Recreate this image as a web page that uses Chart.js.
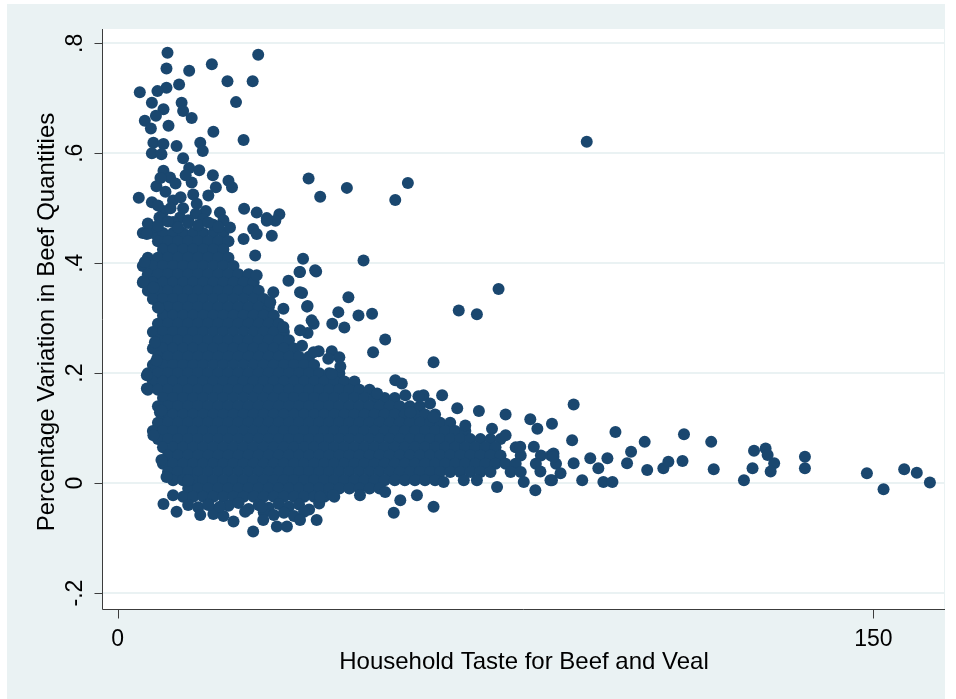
<!DOCTYPE html>
<html>
<head>
<meta charset="utf-8">
<title>Household taste vs beef quantities</title>
<script src="https://cdn.jsdelivr.net/npm/chart.js@4.4.1/dist/chart.umd.min.js"></script>
<style>
  html, body { margin: 0; padding: 0; background: #fff; }
  #wrap { width: 956px; height: 699px; }
</style>
</head>
<body>
<div id="wrap"><canvas id="scatter" width="956" height="699"></canvas></div>
<script>
/* ======================
DATA
====================== */

// axis ticks
const xTickValues = [0, 150];
const xTickLabels = ["0", "150"];
const yTickValues = [-0.2, 0, 0.2, 0.4, 0.6, 0.8];
const yTickLabels = ["-.2", "0", ".2", ".4", ".6", ".8"];

const xTitle = "Household Taste for Beef and Veal";
const yTitle = "Percentage Variation in Beef Quantities";

// dense core of the cloud, read row by row (y level -> taste values)
const coreLevels = [
  0.455, 0.440, 0.425, 0.410, 0.395, 0.380, 0.365, 0.350, 0.335,
  0.320, 0.305, 0.290, 0.275, 0.260, 0.245, 0.230, 0.215, 0.200, 0.185,
  0.170, 0.155, 0.140, 0.125, 0.110, 0.095, 0.080, 0.065, 0.050, 0.035,
  0.020, 0.005, -0.010, -0.025
];
const coreTastes = [
  [5,7,9,11,13,15,17,19,21],
  [8,10,12,14,16,18,20,22],
  [9,11,13,15,17,19,21],
  [6,8,10,12,14,16,18,20,22],
  [5,7,9,11,13,15,17,19,21,23],
  [6,8,10,12,14,16,18,20,22,24,26],
  [5,7,9,11,13,15,17,19,21,23,25,27],
  [6,8,10,12,14,16,18,20,22,24,26,28],
  [7,9,11,13,15,17,19,21,23,25,27,29],
  [8,10,12,14,16,18,20,22,24,26,28,30],
  [9,11,13,15,17,19,21,23,25,27,29,31],
  [8,10,12,14,16,18,20,22,24,26,28,30,32],
  [7,9,11,13,15,17,19,21,23,25,27,29,31,33],
  [8,10,12,14,16,18,20,22,24,26,28,30,32,34],
  [7,9,11,13,15,17,19,21,23,25,27,29,31,33,35],
  [8,10,12,14,16,18,20,22,24,26,28,30,32,34,36,38],
  [7,9,11,13,15,17,19,21,23,25,27,29,31,33,35,37,39],
  [6,8,10,12,14,16,18,20,22,24,26,28,30,32,34,36,38,40,42,44],
  [7,9,11,13,15,17,19,21,23,25,27,29,31,33,35,37,39,41,43,45,47],
  [6,8,10,12,14,16,18,20,22,24,26,28,30,32,34,36,38,40,42,44,46,48,50],
  [9,11,13,15,17,19,21,23,25,27,29,31,33,35,37,39,41,43,45,47,49,51,53,55],
  [8,10,12,14,16,18,20,22,24,26,28,30,32,34,36,38,40,42,44,46,48,50,52,54,56,58,60],
  [9,11,13,15,17,19,21,23,25,27,29,31,33,35,37,39,41,43,45,47,49,51,53,55,57,59,61,63],
  [8,10,12,14,16,18,20,22,24,26,28,30,32,34,36,38,40,42,44,46,48,50,52,54,56,58,60,62,64,66],
  [7,9,11,13,15,17,19,21,23,25,27,29,31,33,35,37,39,41,43,45,47,49,51,53,55,57,59,61,63,65,67,69],
  [8,10,12,14,16,18,20,22,24,26,28,30,32,34,36,38,40,42,44,46,48,50,52,54,56,58,60,62,64,66,68,70,72,74,76],
  [9,11,13,15,17,19,21,23,25,27,29,31,33,35,37,39,41,43,45,47,49,51,53,55,57,59,61,63,65,67,69,71,73,75,79],
  [10,12,14,16,18,20,22,24,26,28,30,32,34,36,38,40,42,44,46,48,50,52,54,56,58,60,62,64,66,68,70,72,74,76,80,84,86],
  [9,11,13,15,17,19,21,23,25,27,29,31,33,35,37,39,41,43,45,47,49,51,53,55,57,59,61,63,65,67,69,71,73,75,77,79,83,87],
  [10,12,14,16,18,20,22,24,26,28,30,32,34,36,38,40,42,44,46,48,50,52,54,56,58,60,62,64,66,68,70,72,74,78,80],
  [11,13,15,17,19,21,23,25,27,29,31,33,35,37,39,41,43,45,47,49,51,53,55,57,59,61,63],
  [14,16,18,20,22,24,26,28,30,32,34,36,38,40,42,44,46,48,50,52],
  [13,15,17,19,21,23,25,27,29,31,33,35,37,39,41,43]
];

// upper left spread (taste, variation)
const upperPoints = [
  [9.9,0.783],[9.7,0.754],[14.2,0.750],[18.7,0.762],[27.9,0.779],[21.8,0.731],
  [26.8,0.731],[23.5,0.693],[12.2,0.725],[9.7,0.719],[7.9,0.713],[4.4,0.711],
  [6.8,0.692],[9.1,0.680],[12.7,0.692],[13.0,0.677],[14.7,0.664],[5.4,0.659],
  [6.6,0.645],[10.1,0.650],[7.6,0.668],[19.0,0.639],[25.0,0.624],[16.4,0.619],
  [16.9,0.604],[7.1,0.619],[9.1,0.617],[6.8,0.600],[8.7,0.598],[11.7,0.613],
  [13.0,0.591],[14.2,0.573],[16.2,0.569],[9.1,0.568],[7.7,0.540],[10.4,0.556],
  [14.7,0.547],[18.9,0.560],[22.0,0.550],[22.7,0.538],[19.5,0.538],[18.0,0.523],
  [4.2,0.519],[6.8,0.511],[25.1,0.499],[27.6,0.492],[29.6,0.482],[32.1,0.489],
  [31.3,0.477],[17.5,0.495],[20.3,0.492],[9.1,0.495],[11.0,0.514],[15.7,0.508],
  [8.3,0.483],[12.4,0.483],[26.9,0.462],[22.3,0.465],[6.8,0.465],
  [8.5,0.555],[11.5,0.545],[13.5,0.560],[9.5,0.530],[12.5,0.520],[15.0,0.525],
  [8.0,0.505],[10.5,0.500],[13.0,0.500],[15.5,0.490],[9.0,0.480],[11.0,0.475],
  [14.0,0.478],[17.0,0.480],[19.0,0.470],[21.0,0.478],
  [6.0,0.472],[8.0,0.468],[10.0,0.476],[12.0,0.465],[14.0,0.473],[16.0,0.469],
  [18.0,0.474],[20.0,0.466]
];

// middle spread and left fringe
const middlePoints = [
  [37.9,0.554],[40.2,0.521],[45.5,0.537],[55.1,0.515],[57.6,0.546],[48.8,0.405],
  [36.8,0.408],[36.2,0.384],[39.4,0.385],[75.6,0.353],[67.7,0.314],[71.3,0.307],
  [36.6,0.346],[45.8,0.338],[37.7,0.322],[43.8,0.311],[47.8,0.305],[50.5,0.308],
  [38.9,0.290],[42.6,0.290],[45.0,0.283],[37.7,0.273],[53.1,0.261],[50.7,0.238],
  [39.9,0.240],[42.5,0.240],[44.0,0.229],[44.2,0.212],[41.8,0.226],[36.6,0.250],
  [62.7,0.220],[42.5,0.199],[55.1,0.187],[56.4,0.181],[60.7,0.160],[64.4,0.160],
  [51.5,0.163],[57.1,0.160],
  [27.6,0.453],[25.0,0.444],[30.6,0.450],[29.6,0.477],[27.3,0.414],[27.6,0.378],
  [33.9,0.368],[30.9,0.347],[36.2,0.347],[32.9,0.317],[37.6,0.321],[30.3,0.329],
  [38.5,0.296],[36.2,0.278],[32.9,0.284],[38.9,0.238],[39.2,0.387],[36.1,0.384],
  [5.8,0.453],[5.4,0.402],[5.1,0.367],[7.1,0.356],[8.1,0.319],[7.4,0.256],
  [7.7,0.223],[5.8,0.196],[5.8,0.172],[8.4,0.129],[8.7,0.132],[7.1,0.087],
  [8.7,0.042],[9.7,0.011],[14.0,0.005],
  [67.4,0.136],[71.7,0.131],[77.0,0.125],[81.9,0.116],[83.3,0.099],[69.0,0.105],
  [74.3,0.099],[77.0,0.087],[62.7,0.120],[58.1,0.129],[62.0,0.145],[59.7,0.158]
];

// lower edge of the cloud
const lowerPoints = [
  [14,-0.040],[16,-0.044],[18,-0.038],[20,-0.046],[22,-0.041],[24,-0.036],
  [26,-0.047],[28,-0.040],[30,-0.045],[32,-0.038],[34,-0.043],[36,-0.039],
  [38,-0.048],[40,-0.037],
  [19,-0.056],[21,-0.060],[29,-0.053],[31,-0.058],[33,-0.054],[35,-0.060],[37,-0.052],
  [16.4,-0.058],[9.1,-0.038],[11.7,-0.052],[11.0,-0.022],[23.0,-0.070],[26.9,-0.088],
  [28.9,-0.067],[31.6,-0.079],[33.6,-0.079],[36.2,-0.067],[39.5,-0.067],[25.3,-0.052],
  [20.3,-0.043],[18.0,-0.040],[28.6,-0.043],[40.2,-0.025],[42.8,-0.022],[48.1,-0.022],
  [53.1,-0.016],[59.4,-0.022],[56.1,-0.031],[54.8,-0.054],[62.7,-0.043],[64.7,0.002],
  [68.7,0.005],[71.3,0.005],[75.3,-0.007],[80.6,0.002],[82.9,-0.013],[86.2,0.005],
  [83.9,0.021],[86.5,0.054],[79.9,0.066],[82.6,0.066]
];

// long right tail
const tailPoints = [
  [93.1,0.621],[90.5,0.143],[86.2,0.108],[98.8,0.093],[90.2,0.078],[104.6,0.075],
  [112.4,0.089],[117.8,0.075],[101.9,0.057],[112.1,0.040],[118.3,0.025],[126.3,0.059],
  [128.6,0.063],[129.0,0.051],[130.3,0.036],[126.0,0.027],[124.3,0.005],[129.6,0.021],
  [136.4,0.048],[136.4,0.027],[148.7,0.018],[152.0,-0.011],[156.1,0.025],[158.6,0.019],
  [161.2,0.001],[86.5,0.048],[90.5,0.036],[93.8,0.045],[97.2,0.045],[92.2,0.005],
  [96.4,0.002],[98.2,0.002],[101.1,0.036],[105.1,0.024],[108.3,0.027],[109.3,0.039],
  [85.9,0.005],[87.9,0.018],[95.4,0.027]
];

/* ======================
LAYOUT
====================== */

const X_MIN = -3.1;
const X_MAX = 164;
const Y_MIN = -0.229;
const Y_MAX = 0.826;
const MARKER = "#1A476F";
const OUTER_BG = "#EAF2F3";
const FONT = '"Liberation Sans", Arial, sans-serif';

/* ======================
BUILD POINTS
====================== */

const cloud = [];
coreLevels.forEach((level, i) => {
  coreTastes[i].forEach((taste) => cloud.push({ x: taste, y: level }));
});
[upperPoints, middlePoints, lowerPoints, tailPoints].forEach((list) => {
  list.forEach((p) => cloud.push({ x: p[0], y: p[1] }));
});

/* ======================
PLUGINS
====================== */

const stataFrame = {
  id: "stataFrame",
  beforeDraw(chart) {
    const { ctx, chartArea } = chart;
    ctx.save();
    ctx.fillStyle = "#ffffff";
    ctx.fillRect(0, 0, chart.width, chart.height);
    ctx.fillStyle = OUTER_BG;
    ctx.fillRect(7, 4, 938, 695);
    ctx.fillStyle = "#ffffff";
    ctx.fillRect(chartArea.left, chartArea.top,
      chartArea.right - chartArea.left, chartArea.bottom - chartArea.top);
    ctx.restore();
  },
  afterDraw(chart) {
    const { ctx, chartArea } = chart;
    const xs = chart.scales.x;
    const ys = chart.scales.y;
    const left = chartArea.left + 0.5;
    const bottom = chartArea.bottom + 0.5;

    ctx.save();
    ctx.strokeStyle = "#3c3c3c";
    ctx.lineWidth = 1;

    // axis lines
    ctx.beginPath();
    ctx.moveTo(left, chartArea.top);
    ctx.lineTo(left, bottom);
    ctx.lineTo(945, bottom);
    ctx.stroke();

    // tick marks
    ctx.beginPath();
    yTickValues.forEach((v) => {
      const py = Math.round(ys.getPixelForValue(v)) + 0.5;
      ctx.moveTo(left - 8, py);
      ctx.lineTo(left, py);
    });
    xTickValues.forEach((v) => {
      const px = Math.round(xs.getPixelForValue(v)) + 0.5;
      ctx.moveTo(px, bottom);
      ctx.lineTo(px, bottom + 9);
    });
    ctx.stroke();

    // tick labels
    ctx.fillStyle = "#000000";
    ctx.font = "23px " + FONT;
    ctx.textAlign = "center";
    ctx.textBaseline = "alphabetic";
    xTickValues.forEach((v, i) => {
      ctx.fillText(xTickLabels[i], xs.getPixelForValue(v), 646);
    });
    yTickValues.forEach((v, i) => {
      ctx.save();
      ctx.translate(81.5, ys.getPixelForValue(v));
      ctx.rotate(-Math.PI / 2);
      ctx.fillText(yTickLabels[i], 0, 0);
      ctx.restore();
    });

    // axis titles
    ctx.font = "24px " + FONT;
    ctx.fillText(xTitle, 524, 669);
    ctx.save();
    ctx.translate(54, 322);
    ctx.rotate(-Math.PI / 2);
    ctx.fillText(yTitle, 0, 0);
    ctx.restore();

    ctx.restore();
  },
};

/* ======================
CHART
====================== */

new Chart(document.getElementById("scatter"), {
  type: "scatter",
  data: {
    datasets: [
      {
        data: cloud,
        backgroundColor: MARKER,
        borderColor: MARKER,
        borderWidth: 0,
        pointRadius: 6,
        pointHoverRadius: 6,
      },
    ],
  },
  options: {
    responsive: false,
    devicePixelRatio: 1,
    animation: false,
    events: [],
    layout: { padding: { top: 29, right: 12, bottom: 0, left: 0 } },
    plugins: {
      legend: { display: false },
      tooltip: { enabled: false },
    },
    scales: {
      x: {
        type: "linear",
        min: X_MIN,
        max: X_MAX,
        afterBuildTicks: (s) => { s.ticks = xTickValues.map((v) => ({ value: v })); },
        afterFit: (s) => { s.height = 90; },
        ticks: { display: false },
        grid: { display: false },
        border: { display: false },
      },
      y: {
        type: "linear",
        min: Y_MIN,
        max: Y_MAX,
        afterBuildTicks: (s) => { s.ticks = yTickValues.map((v) => ({ value: v })); },
        afterFit: (s) => { s.width = 102; },
        ticks: { display: false },
        grid: { color: OUTER_BG, lineWidth: 2, drawTicks: false },
        border: { display: false },
      },
    },
  },
  plugins: [stataFrame],
});
</script>
</body>
</html>
